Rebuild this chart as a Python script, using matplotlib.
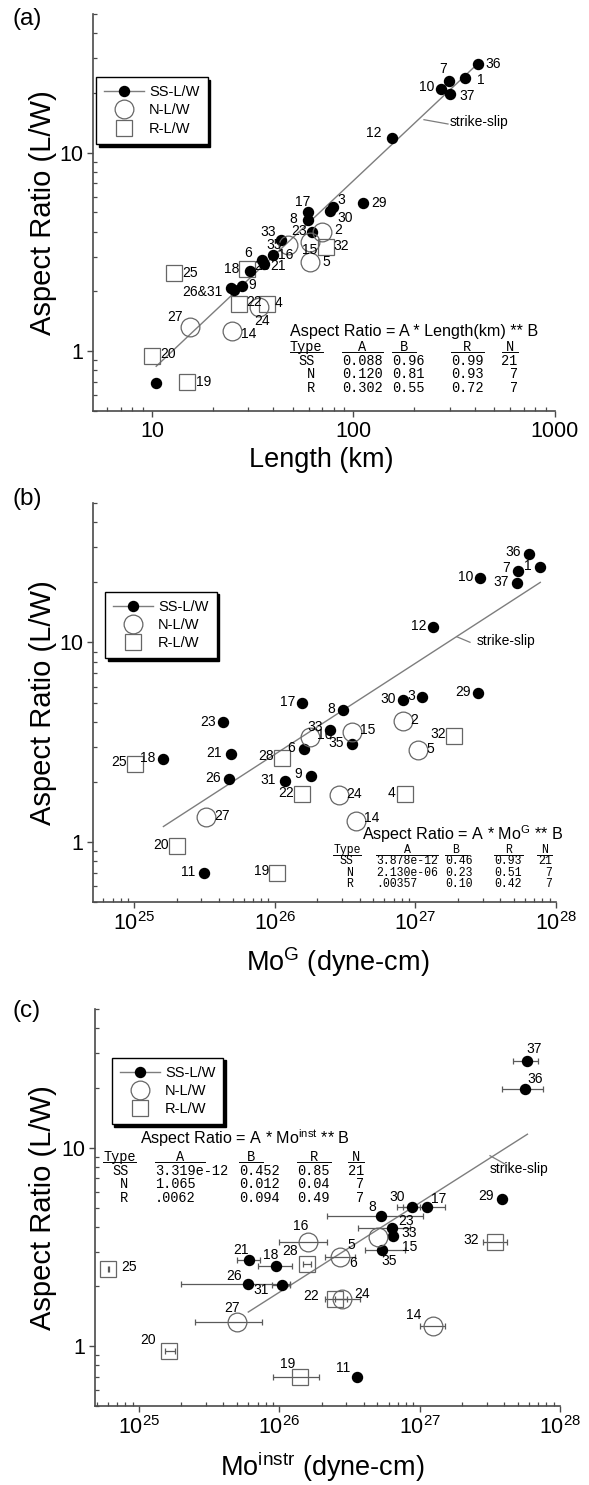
"""Aspect ratio (L/W) of strike-slip, normal and reverse ruptures vs length and moment."""
import matplotlib

matplotlib.use("Agg")
import matplotlib.pyplot as plt
import numpy as np
from matplotlib.lines import Line2D
from matplotlib.ticker import LogLocator, NullFormatter

W, H = 589, 1485

plt.rcParams["font.family"] = ["Liberation Sans", "DejaVu Sans"]
plt.rcParams["mathtext.fontset"] = "custom"
plt.rcParams["mathtext.rm"] = "Liberation Sans"
plt.rcParams["mathtext.it"] = "Liberation Sans:italic"
plt.rcParams["mathtext.bf"] = "Liberation Sans:bold"

# ---------------- panel (a): aspect ratio vs length (km) ----------------
a_ss_lab = ["36", "1", "7", "10", "37", "12", "29", "3", "30", "17", "8", "23", "33",
            "35", "6", "21", "18", "26&31", "", "9", ""]
a_ss_len = [416, 357, 298, 271, 301, 155, 112, 79.5, 76.6, 59.8, 59.8, 62.1, 43.8,
            39.8, 35.1, 36.0, 30.7, 24.6, 25.4, 27.9, 10.5]
a_ss_ar = [27.9, 23.8, 22.9, 21.0, 19.8, 11.8, 5.6, 5.3, 5.08, 5.0, 4.56, 3.98, 3.64,
           3.07, 2.89, 2.75, 2.54, 2.09, 2.04, 2.12, 0.69]
a_n_lab = ["2", "16", "15", "5", "24", "27", "14"]
a_n_len = [70.1, 47.6, 60.9, 60.9, 33.8, 15.4, 24.9]
a_n_ar = [3.98, 3.41, 3.54, 2.83, 1.68, 1.33, 1.27]
a_r_lab = ["32", "28", "25", "22", "4", "20", "19"]
a_r_len = [72.9, 29.6, 12.9, 27.1, 37.2, 10.0, 15.0]
a_r_ar = [3.37, 2.60, 2.47, 1.72, 1.72, 0.95, 0.70]
a_fit_x = [10.5, 420]
a_fit_y = [0.84, 28.5]
a_tab_type = ["SS", "N", "R"]
a_tab_A = ["0.088", "0.120", "0.302"]
a_tab_B = ["0.96", "0.81", "0.55"]
a_tab_R = ["0.99", "0.93", "0.72"]
a_tab_N = ["21", "7", "7"]

# ---------------- panel (b): aspect ratio vs Mo^G (dyne-cm) ----------------
b_ss_lab = ["36", "1", "7", "10", "37", "12", "29", "3", "30", "17", "8", "23", "33",
            "35", "21", "6", "18", "26", "31", "9", "11"]
b_ss_mo = [6.38e27, 7.73e27, 5.36e27, 2.89e27, 5.28e27, 1.34e27, 2.78e27, 1.12e27,
           8.14e26, 1.57e26, 3.07e26, 4.3e25, 2.47e26, 3.56e26, 4.86e25, 1.6e26,
           1.59e25, 4.72e25, 1.18e26, 1.81e26, 3.13e25]
b_ss_ar = [27.8, 23.8, 22.9, 21.1, 19.95, 11.9, 5.61, 5.33, 5.14, 5.0, 4.61, 3.97, 3.66,
           3.09, 2.77, 2.91, 2.59, 2.06, 2.03, 2.13, 0.70]
b_n_lab = ["2", "16", "15", "5", "24", "27", "14"]
b_n_mo = [8.09e26, 1.78e26, 3.56e26, 1.05e27, 2.87e26, 3.22e25, 3.77e26]
b_n_ar = [4.05, 3.36, 3.56, 2.88, 1.71, 1.34, 1.28]
b_r_lab = ["32", "25", "28", "22", "4", "20", "19"]
b_r_mo = [1.89e27, 1.01e25, 1.12e26, 1.55e26, 8.46e26, 2.0e25, 1.04e26]
b_r_ar = [3.39, 2.47, 2.63, 1.73, 1.73, 0.95, 0.70]
b_fit_x = [1.61e25, 7.73e27]
b_fit_y = [1.195, 20.0]
b_tab_type = ["SS", "N", "R"]
b_tab_A = ["3.878e-12", "2.130e-06", ".00357"]
b_tab_B = ["0.46", "0.23", "0.10"]
b_tab_R = ["0.93", "0.51", "0.42"]
b_tab_N = ["21", "7", "7"]

# ---------------- panel (c): aspect ratio vs Mo^instr (dyne-cm) ----------------
nan = np.nan
c_ss_lab = ["37", "36", "29", "30", "17", "8", "23", "33", "35", "21", "18", "26", "31", "11"]
c_ss_mo = [5.86e27, 5.64e27, 3.89e27, 8.79e26, 1.13e27, 5.31e26, 6.39e26, 6.5e26,
           5.42e26, 6.11e25, 9.47e25, 6.01e25, 1.05e26, 3.6e26]
c_ss_ar = [27.4, 19.7, 5.53, 5.05, 5.02, 4.55, 3.93, 3.61, 3.04, 2.73, 2.54, 2.07, 2.04, 0.70]
c_ss_lo = [4.61e27, 3.85e27, nan, 6.87e26, 7.65e26, 2.18e26, 3.66e26, nan,
           4.08e26, 4.97e25, 7.08e25, 1.98e25, 8.83e25, nan]
c_ss_hi = [7.01e27, 7.62e27, nan, 1.01e27, 1.52e27, 1.06e27, 8.55e26, nan,
           7.87e26, 7.28e25, 1.23e26, 1.19e26, 1.19e26, nan]
c_n_lab = ["16", "5", "15", "24", "27", "14"]
c_n_mo = [1.61e26, 2.71e26, 5.08e26, 2.81e26, 4.97e25, 1.25e27]
c_n_ar = [3.35, 2.83, 3.54, 1.72, 1.32, 1.26]
c_n_lo = [1.0e26, 2.12e26, nan, 2.49e26, 2.51e25, 1.01e27]
c_n_hi = [2.2e26, 3.47e26, nan, 3.76e26, 7.57e25, 1.52e27]
c_r_lab = ["32", "28", "25", "22", "20", "19"]
c_r_mo = [3.45e27, 1.57e26, 6.04e24, 2.49e26, 1.64e25, 1.41e26]
c_r_ar = [3.35, 2.60, 2.46, 1.72, 0.944, 0.70]
c_r_lo = [2.84e27, 1.47e26, 5.97e24, 2.12e26, 1.53e25, 8.97e25]
c_r_hi = [4.17e27, 1.67e26, 6.11e24, 3.02e26, 1.81e25, 1.93e26]
c_extra_lab = ["6"]
c_extra_mo = [2.71e26]
c_extra_ar = [2.83]
c_fit_x = [6.01e25, 5.86e27]
c_fit_y = [1.487, 11.7]
c_tab_type = ["SS", "N", "R"]
c_tab_A = ["3.319e-12", "1.065", ".0062"]
c_tab_B = ["0.452", "0.012", "0.094"]
c_tab_R = ["0.85", "0.04", "0.49"]
c_tab_N = ["21", "7", "7"]

# label offsets (pixels: right, down) from the marker centre
off_a = {"36": (15, 0), "1": (15.5, 2.3), "7": (-6.3, -12.7), "10": (-14, -1.7),
         "37": (17.5, 1.7), "12": (-17.7, -5.4), "29": (15.7, 0), "3": (7.7, -7.4),
         "30": (15.5, 6.6), "17": (-5.8, -10), "8": (-14.8, -1.7), "23": (-12.5, -0.7),
         "33": (-13.5, -8.3), "35": (1.5, -10), "6": (-13.4, -6.6), "21": (13.5, 1.7),
         "18": (-18.3, -1.7), "26&31": (-28, 4), "9": (10.8, -1),
         "2": (16.2, -1.7), "16": (-2.8, 9.3), "15": (-0.8, 7.6), "5": (15.8, 0.7),
         "24": (3.4, 14.7), "27": (-15.1, -9.3), "14": (16.6, 3.3),
         "32": (15.1, -1), "28": (15.3, -3.3), "25": (15.9, 0), "22": (15.2, -2.3),
         "4": (11.6, -1.3), "20": (15.8, -1.7), "19": (16, 0)}
off_b = {"36": (-15.8, -1.7), "7": (-11.7, -2.4), "1": (-12.5, -1.6), "37": (-15.9, -1),
         "10": (-14.2, -1), "12": (-14.1, -1.3), "29": (-15.2, -0.6), "30": (-15.2, -1),
         "3": (-10.6, -1), "17": (-14.8, -0.6), "8": (-12.1, -1), "23": (-15, -0.6),
         "2": (11.9, -0.7), "33": (-15, -2.6), "16": (15, -1.7), "15": (15.5, -1.7),
         "32": (-16.5, -2), "35": (-16.5, -0.7), "5": (11.7, -1.7), "21": (-16.5, -0.6),
         "6": (-12.6, -1.7), "18": (-15.2, -1), "25": (-16.3, -1.6), "28": (-15.9, -1.7),
         "26": (-16.5, -1.3), "31": (-16.7, -1), "9": (-12.7, -2), "22": (-15.9, -1.3),
         "24": (15.2, -1), "4": (-13.3, -1.3), "27": (16.8, -1), "14": (15.5, -3),
         "20": (-15.9, -1.4), "11": (-15.7, -0.6), "19": (-15.6, -1.6)}
off_c = {"37": (6.7, -11.7), "36": (10, -10), "29": (-16.5, -3.3), "30": (-14.2, -9.3),
         "17": (11.9, -8.4), "8": (-9, -9), "23": (13.5, -7.5), "33": (15.9, -2.8),
         "15": (31.7, 10), "35": (6.7, 10.7), "5": (11.7, -11.7), "16": (-7.5, -15.7),
         "21": (-8.5, -10), "18": (-5.2, -11.3), "28": (-17, -13.3), "25": (20.9, -1.6),
         "26": (-14.1, -7.3), "31": (-21.5, 5.7), "22": (-23.3, -3.3), "24": (20.2, -5.3),
         "27": (-4.2, -14.4), "14": (-19.1, -11.7), "20": (-20.8, -11.7),
         "19": (-12.5, -13.4), "11": (-14.3, -9), "32": (-24.2, -2.4), "6": (12.7, 6.3)}

AXIS = "#4a4a4a"
EDGE = "#666666"
FIT = "#7d7d7d"
ERR = "#5a5a5a"
MONO = ["Liberation Mono", "DejaVu Sans Mono"]


def fx(x):
    return x / W


def fy(y):
    return 1.0 - y / H


def add_axes(fig, left, top, right, bottom):
    return fig.add_axes([fx(left), fy(bottom), (right - left) / W, (bottom - top) / H])


def style_axes(ax, xlim, xticks, xlabels):
    ax.set_xscale("log")
    ax.set_yscale("log")
    ax.set_xlim(*xlim)
    ax.set_ylim(0.5, 50)
    for side in ("top", "right"):
        ax.spines[side].set_visible(False)
    for side in ("left", "bottom"):
        ax.spines[side].set_color(AXIS)
        ax.spines[side].set_linewidth(1.2)
    ax.set_xticks(xticks, labels=xlabels)
    ax.set_yticks([1, 10], labels=["1", "10"])
    minor = dict(base=10, subs=np.arange(2, 10), numticks=30)
    ax.xaxis.set_minor_locator(LogLocator(**minor))
    ax.yaxis.set_minor_locator(LogLocator(**minor))
    ax.xaxis.set_minor_formatter(NullFormatter())
    ax.yaxis.set_minor_formatter(NullFormatter())
    ax.tick_params(which="major", direction="out", length=4, width=1.0, color=AXIS,
                   labelsize=15.5, pad=3)
    ax.tick_params(which="minor", direction="in", length=2.6, width=0.9, color=AXIS)
    ax.patch.set_alpha(0)


def plot_points(ax, xs, ys, labs, offsets, kind):
    if kind == "ss":
        ax.plot(xs, ys, ls="none", marker="o", ms=7.2, mfc="k", mec="k", zorder=4)
    elif kind == "n":
        ax.plot(xs, ys, ls="none", marker="o", ms=13.5, mfc="none", mec=EDGE, mew=0.9, zorder=5)
    elif kind == "r":
        ax.plot(xs, ys, ls="none", marker="s", ms=12, mfc="none", mec=EDGE, mew=0.9, zorder=3)
    for x, y, lab in zip(xs, ys, labs):
        if not lab:
            continue
        dx, dy = offsets[lab]
        ax.annotate(lab, (x, y), xytext=(dx, -dy), textcoords="offset pixels",
                    ha="center", va="center", fontsize=10, zorder=6)


def plot_xerr(ax, xs, ys, lo, hi):
    xs, ys, lo, hi = map(np.asarray, (xs, ys, lo, hi))
    ok = np.isfinite(lo)
    ax.errorbar(xs[ok], ys[ok], xerr=[xs[ok] - lo[ok], hi[ok] - xs[ok]], fmt="none",
                ecolor=ERR, elinewidth=0.9, capsize=2.2, capthick=0.9, zorder=2)


def add_legend(ax, fig, left, top):
    handles = [
        Line2D([], [], color=FIT, lw=1, marker="o", ms=7.2, mfc="k", mec="k"),
        Line2D([], [], ls="none", marker="o", ms=13.5, mfc="none", mec=EDGE, mew=0.9),
        Line2D([], [], ls="none", marker="s", ms=12, mfc="none", mec=EDGE, mew=0.9),
    ]
    leg = ax.legend(handles, ["SS-L/W", "N-L/W", "R-L/W"], loc="upper left",
                    bbox_to_anchor=(fx(left), fy(top)), bbox_transform=fig.transFigure,
                    frameon=True, fancybox=False, shadow={"color": "black", "alpha": 1.0},
                    edgecolor="black", framealpha=1, fontsize=10.5, numpoints=1,
                    handlelength=2.75, handletextpad=0.35, labelspacing=0.3,
                    borderpad=0.55, borderaxespad=0)
    leg.get_frame().set_linewidth(1.0)
    leg.set_zorder(10)


def strike_slip(fig, x0, y0, x1, y1, tx, ty):
    fig.add_artist(Line2D([fx(x0), fx(x1)], [fy(y0), fy(y1)], transform=fig.transFigure,
                          color=FIT, lw=0.9))
    fig.text(fx(tx), fy(ty), "strike-slip", fontsize=10, ha="left", va="center")


def fit_table(fig, eq, eq_x, eq_y, head_y, row_y, type_x, type_right, spans, size,
              types, col_a, col_b, col_r, col_n):
    fig.text(fx(eq_x), fy(eq_y), eq, fontsize=11.6, ha="left", va="center")
    ul = head_y + 5
    fig.text(fx(type_x), fy(head_y), "Type", family=MONO, fontsize=size,
             ha="left", va="center")
    cw = size * 0.6 * 100 / 72
    fig.add_artist(Line2D([fx(type_x), fx(type_x + 4 * cw)], [fy(ul), fy(ul)],
                          transform=fig.transFigure, color="k", lw=0.7))
    for head, (x0, x1) in zip("ABRN", spans):
        fig.text(fx((x0 + x1) / 2), fy(head_y), head, family=MONO, fontsize=size,
                 ha="center", va="center")
        fig.add_artist(Line2D([fx(x0), fx(x1)], [fy(ul), fy(ul)],
                              transform=fig.transFigure, color="k", lw=0.7))
    for i, y in enumerate(row_y):
        fig.text(fx(type_right), fy(y), types[i], family=MONO, fontsize=size,
                 ha="right", va="center")
        for col, (x0, _) in zip((col_a, col_b, col_r), spans[:3]):
            fig.text(fx(x0), fy(y), col[i], family=MONO, fontsize=size,
                     ha="left", va="center")
        fig.text(fx(spans[3][1]), fy(y), col_n[i], family=MONO, fontsize=size,
                 ha="right", va="center")


fig = plt.figure(figsize=(W / 100, H / 100), dpi=100)
fig.patch.set_facecolor("white")

mo_ticks = [1e25, 1e26, 1e27, 1e28]
mo_labels = [r"$10^{25}$", r"$10^{26}$", r"$10^{27}$", r"$10^{28}$"]

# ---- (a)
ax = add_axes(fig, 93, 14, 555, 411)
style_axes(ax, (5.1, 1000), [10, 100, 1000], ["10", "100", "1000"])
ax.plot(a_fit_x, a_fit_y, color=FIT, lw=1.0, zorder=1)
plot_points(ax, a_r_len, a_r_ar, a_r_lab, off_a, "r")
plot_points(ax, a_ss_len, a_ss_ar, a_ss_lab, off_a, "ss")
plot_points(ax, a_n_len, a_n_ar, a_n_lab, off_a, "n")
add_legend(ax, fig, 96, 77)
strike_slip(fig, 424, 119.7, 448, 124, 450, 122.3)
fit_table(fig, "Aspect Ratio = A * Length(km) ** B", 290, 331.7, 346.7, [360.7, 374.3, 388.3],
          290, 315, [(341.7, 382.7), (391.7, 416), (450.7, 484), (502.3, 517.7)], 9.8,
          a_tab_type, a_tab_A, a_tab_B, a_tab_R, a_tab_N)
fig.text(fx(27), fy(19), "(a)", fontsize=17.5, ha="center", va="center")
fig.text(fx(43), fy(212.5), "Aspect Ratio (L/W)", rotation=90, fontsize=21,
         ha="center", va="center")
fig.text(fx(321.7), fy(466.7), "Length (km)", fontsize=19.5, ha="center", va="baseline")

# ---- (b)
ax = add_axes(fig, 93, 503, 556, 902)
style_axes(ax, (5.08e24, 1e28), mo_ticks, mo_labels)
ax.plot(b_fit_x, b_fit_y, color=FIT, lw=1.0, zorder=1)
plot_points(ax, b_r_mo, b_r_ar, b_r_lab, off_b, "r")
plot_points(ax, b_ss_mo, b_ss_ar, b_ss_lab, off_b, "ss")
plot_points(ax, b_n_mo, b_n_ar, b_n_lab, off_b, "n")
add_legend(ax, fig, 105, 591.7)
strike_slip(fig, 456.7, 636.7, 470, 642.3, 476.7, 641)
fit_table(fig, r"Aspect Ratio = A * Mo$^{\mathrm{G}}$ ** B", 361.7, 834, 850,
          [861, 872.7, 884], 333.3, 353.3,
          [(376, 438.3), (445, 466.7), (494.3, 522.7), (536.7, 551.7)], 8.3,
          b_tab_type, b_tab_A, b_tab_B, b_tab_R, b_tab_N)
fig.text(fx(27), fy(499), "(b)", fontsize=17.5, ha="center", va="center")
fig.text(fx(43), fy(702.5), "Aspect Ratio (L/W)", rotation=90, fontsize=21,
         ha="center", va="center")
fig.text(fx(338), fy(970.7), r"Mo$^{\mathrm{G}}$ (dyne-cm)", fontsize=19.5,
         ha="center", va="baseline")

# ---- (c)
ax = add_axes(fig, 95, 1009, 560, 1406)
style_axes(ax, (4.86e24, 1e28), mo_ticks, mo_labels)
ax.plot(c_fit_x, c_fit_y, color=FIT, lw=1.0, zorder=1)
plot_xerr(ax, c_ss_mo, c_ss_ar, c_ss_lo, c_ss_hi)
plot_xerr(ax, c_n_mo, c_n_ar, c_n_lo, c_n_hi)
plot_xerr(ax, c_r_mo, c_r_ar, c_r_lo, c_r_hi)
plot_points(ax, c_r_mo, c_r_ar, c_r_lab, off_c, "r")
plot_points(ax, c_ss_mo, c_ss_ar, c_ss_lab, off_c, "ss")
plot_points(ax, c_n_mo, c_n_ar, c_n_lab, off_c, "n")
for x, y, lab in zip(c_extra_mo, c_extra_ar, c_extra_lab):
    dx, dy = off_c[lab]
    ax.annotate(lab, (x, y), xytext=(dx, -dy), textcoords="offset pixels",
                ha="center", va="center", fontsize=10)
add_legend(ax, fig, 111.7, 1057.7)
strike_slip(fig, 490, 1155.7, 506.7, 1165, 490, 1169.3)
fit_table(fig, r"Aspect Ratio = A * Mo$^{\mathrm{inst}}$ ** B", 140, 1138.3, 1156.7,
          [1170.7, 1184.3, 1198.3], 103.3, 128.3,
          [(155, 205), (239, 263.3), (297.3, 330.7), (348.3, 364)], 9.8,
          c_tab_type, c_tab_A, c_tab_B, c_tab_R, c_tab_N)
fig.text(fx(27), fy(1011), "(c)", fontsize=17.5, ha="center", va="center")
fig.text(fx(43), fy(1207.5), "Aspect Ratio (L/W)", rotation=90, fontsize=21,
         ha="center", va="center")
fig.text(fx(322), fy(1476), r"Mo$^{\mathrm{instr}}$ (dyne-cm)", fontsize=19.5,
         ha="center", va="baseline")

fig.savefig("out.png", dpi=100)
